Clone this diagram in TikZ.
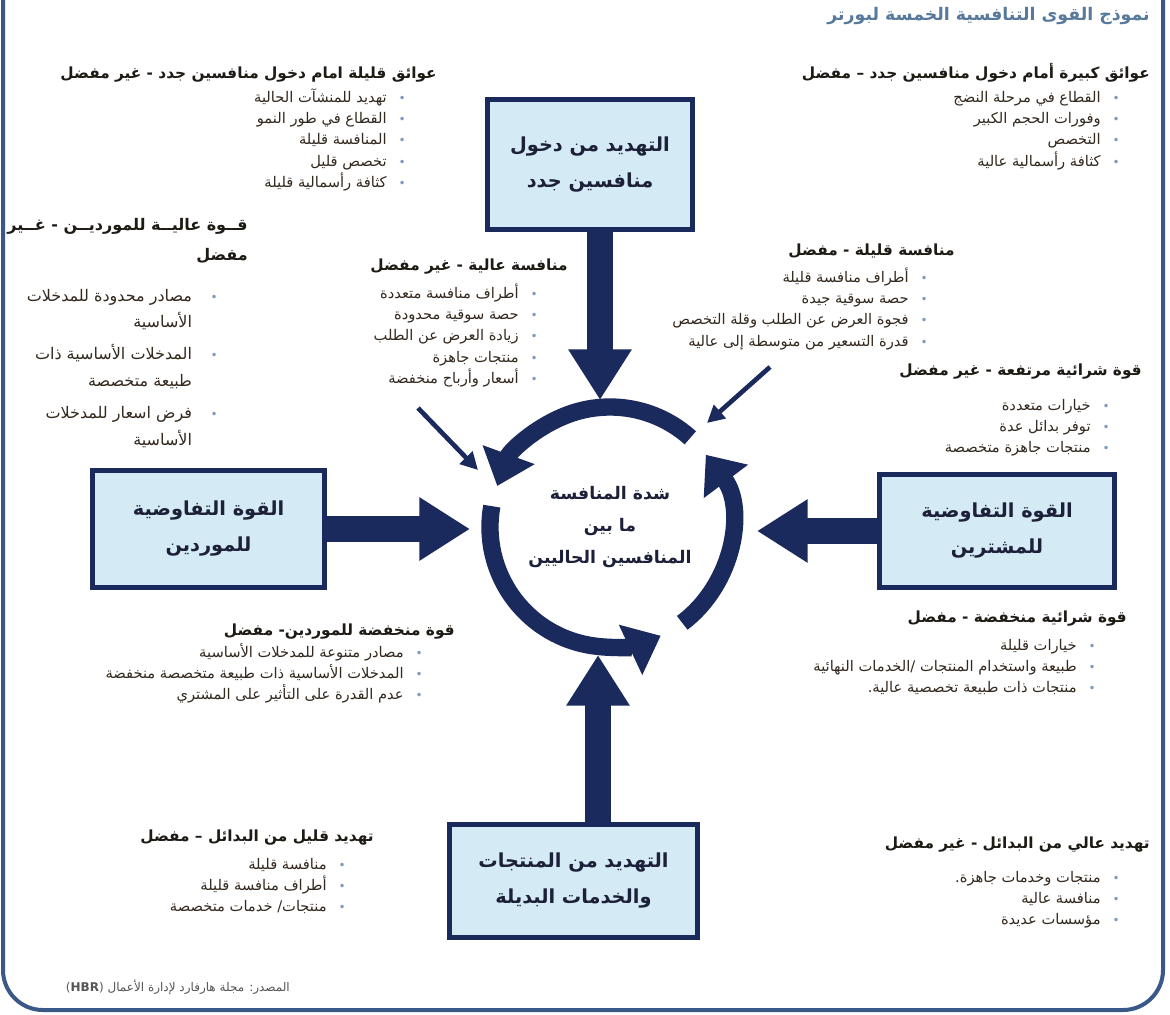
\documentclass[tikz,border=0pt]{standalone}
\usepackage{fontspec}
\setmainfont{DejaVu Sans}
\newfontfamily\arabicfont[Script=Arabic]{DejaVu Sans}
\TeXXeTstate=1
\usetikzlibrary{arrows.meta}
\definecolor{navy}{HTML}{1B2A5C}
\definecolor{boxfill}{HTML}{D4EAF4}
\definecolor{boxtxt}{HTML}{1C2038}
\definecolor{headtxt}{HTML}{1E1A14}
\definecolor{bodytxt}{HTML}{33291E}
\definecolor{bul}{HTML}{7E9CC0}
\definecolor{ttl}{HTML}{56799C}
\definecolor{frame}{HTML}{3A5888}
\definecolor{srctxt}{HTML}{555555}
\newcommand{\ar}[1]{{\arabicfont\beginR #1\endR}}
\newcommand{\bu}{\textcolor{bul}{\fontsize{9}{9}\selectfont\char"2022}}
\newcommand{\li}[1]{\ar{#1} & \bu}
\newenvironment{blt}{\begin{tabular}[t]{@{}r@{\hspace{9pt}}c@{}}}{\end{tabular}}
\begin{document}
\begin{tikzpicture}[x=0.75pt,y=-0.75pt,
  fbox/.style={draw=navy,line width=3.75pt,fill=boxfill,align=center,
    font=\arabicfont\bfseries\fontsize{14.5}{27}\selectfont,text=boxtxt,inner sep=0pt},
  bigarrow/.style={-{Triangle[length=38pt,width=45pt]},line width=19.5pt,draw=navy},
  thinarrow/.style={-{Triangle[length=13pt,width=13pt]},line width=3.5pt,draw=navy},
  ringarrow/.style={-{Triangle[length=25pt,width=40pt]},line width=13pt,draw=navy},
  head/.style={anchor=base east,inner sep=0pt,font=\arabicfont\bfseries\fontsize{11.5}{16}\selectfont,text=headtxt},
  blist/.style={anchor=base east,inner sep=0pt,font=\arabicfont\fontsize{11}{16}\selectfont,text=bodytxt},
]
\useasboundingbox (0,0) rectangle (1170,1014);
\fill[white] (0,0) rectangle (1170,1014);
% frame
\draw[frame,line width=3pt,rounded corners=30pt] (3,-60) rectangle (1163,1010);
% title
\node[anchor=base east,inner sep=0pt,font=\arabicfont\bfseries\fontsize{13}{15}\selectfont,text=ttl] (title) at (1150,20)
  {\ar{نموذج القوى التنافسية الخمسة لبورتر}};

% boxes
\node[fbox,minimum width=154pt,minimum height=98pt] (top) at (590,164.5)
  {\ar{التهديد من دخول}\\\ar{منافسين جدد}};
\node[fbox,minimum width=174pt,minimum height=88pt] (left) at (208.5,529)
  {\ar{القوة التفاوضية}\\\ar{للموردين}};
\node[fbox,minimum width=176pt,minimum height=85pt] (right) at (997,531)
  {\ar{القوة التفاوضية}\\\ar{للمشترين}};
\node[fbox,minimum width=186pt,minimum height=85pt] (bottom) at (573.5,881)
  {\ar{التهديد من المنتجات}\\\ar{والخدمات البديلة}};

% ring
\coordinate (C) at (610,527);
\draw[ringarrow] ([shift={(48:90pt)}]C) arc[start angle=48,end angle=160,radius=90pt];
\draw[ringarrow] ([shift={(170:90pt)}]C) arc[start angle=170,end angle=295,radius=90pt];
\draw[ringarrow] ([shift={(307:90pt)}]C) arc[start angle=307,end angle=397,radius=90pt];
\node[align=center,inner sep=0pt,font=\arabicfont\bfseries\fontsize{13}{24}\selectfont,text=boxtxt] (ctext) at (C)
  {\ar{شدة المنافسة}\\\ar{ما بين}\\\ar{المنافسين الحاليين}};

% big arrows
\coordinate (tA) at (600,400);
\coordinate (lA) at (470,529);
\coordinate (rA) at (757,531);
\coordinate (bA) at (598,655);
\draw[bigarrow] (top.south -| tA) -- (tA);
\draw[bigarrow] (left.east) -- (lA);
\draw[bigarrow] (right.west) -- (rA);
\draw[bigarrow] (bottom.north -| bA) -- (bA);
% thin arrows
\coordinate (d1s) at (418,408);
\coordinate (d1e) at (478,470);
\coordinate (d2s) at (770,367);
\coordinate (d2e) at (707,423);
\draw[thinarrow] (d1s) -- (d1e);
\draw[thinarrow] (d2s) -- (d2e);

% top-left block
\node[head] (tlH) at (437,78) {\ar{عوائق قليلة امام دخول منافسين جدد - غير مفضل}};
\node[blist] (tlL) at (406,102) {\begin{blt}
\li{تهديد للمنشآت الحالية}\\
\li{القطاع في طور النمو}\\
\li{المنافسة قليلة}\\
\li{تخصص قليل}\\
\li{كثافة رأسمالية قليلة}
\end{blt}};

% top-right block
\node[head] (trH) at (1150,78) {\ar{عوائق كبيرة أمام دخول منافسين جدد – مفضل}};
\node[blist] (trL) at (1120,102) {\begin{blt}
\li{القطاع في مرحلة النضج}\\
\li{وفورات الحجم الكبير}\\
\li{التخصص}\\
\li{كثافة رأسمالية عالية}
\end{blt}};

% left-middle block
\node[head,font=\arabicfont\bfseries\fontsize{12}{22}\selectfont] (lmH) at (248,230)
  {\ar{قــوة عاليــة للمورديــن - غــير}};
\node[head,font=\arabicfont\bfseries\fontsize{12}{22}\selectfont] (lmH2) at (248,260) {\ar{مفضل}};
\node[blist,font=\arabicfont\fontsize{12}{20}\selectfont] (lmL) at (218,301) {\begin{tabular}[t]{@{}r@{\hspace{14pt}}c@{}}
\li{مصادر محدودة للمدخلات}\\
\ar{الأساسية} & \\[4pt]
\li{المدخلات الأساسية ذات}\\
\ar{طبيعة متخصصة} & \\[4pt]
\li{فرض اسعار للمدخلات}\\
\ar{الأساسية} &
\end{tabular}};

% center-left block
\node[head] (clH) at (568,270) {\ar{منافسة عالية - غير مفضل}};
\node[blist] (clL) at (538,298) {\begin{blt}
\li{أطراف منافسة متعددة}\\
\li{حصة سوقية محدودة}\\
\li{زيادة العرض عن الطلب}\\
\li{منتجات جاهزة}\\
\li{أسعار وأرباح منخفضة}
\end{blt}};

% center-right block
\node[head] (crH) at (955,255) {\ar{منافسة قليلة - مفضل}};
\node[blist] (crL) at (928,282) {\begin{blt}
\li{أطراف منافسة قليلة}\\
\li{حصة سوقية جيدة}\\
\li{فجوة العرض عن الطلب وقلة التخصص}\\
\li{قدرة التسعير من متوسطة إلى عالية}
\end{blt}};

% right block
\node[head] (rH) at (1142,375) {\ar{قوة شرائية مرتفعة - غير مفضل}};
\node[blist] (rL) at (1110,410) {\begin{blt}
\li{خيارات متعددة}\\
\li{توفر بدائل عدة}\\
\li{منتجات جاهزة متخصصة}
\end{blt}};

% right-lower block
\node[head] (rlH) at (1127,622) {\ar{قوة شرائية منخفضة - مفضل}};
\node[blist] (rlL) at (1096,650) {\begin{blt}
\li{خيارات قليلة}\\
\li{طبيعة واستخدام المنتجات /الخدمات النهائية}\\
\li{منتجات ذات طبيعة تخصصية عالية.}
\end{blt}};

% left-lower block
\node[head] (llH) at (455,635) {\ar{قوة منخفضة للموردين- مفضل}};
\node[blist] (llL) at (423,657) {\begin{blt}
\li{مصادر متنوعة للمدخلات الأساسية}\\
\li{المدخلات الأساسية ذات طبيعة متخصصة منخفضة}\\
\li{عدم القدرة على التأثير على المشتري}
\end{blt}};

% bottom-left block
\node[head] (blH) at (374,841) {\ar{تهديد قليل من البدائل – مفضل}};
\node[blist] (blL) at (346,869) {\begin{blt}
\li{منافسة قليلة}\\
\li{أطراف منافسة قليلة}\\
\li{منتجات/ خدمات متخصصة}
\end{blt}};

% bottom-right block
\node[head] (brH) at (1150,848) {\ar{تهديد عالي من البدائل - غير مفضل}};
\node[blist] (brL) at (1120,882) {\begin{blt}
\li{منتجات وخدمات جاهزة.}\\
\li{منافسة عالية}\\
\li{مؤسسات عديدة}
\end{blt}};

% source
\node[anchor=base east,inner sep=0pt,font=\arabicfont\fontsize{9}{11}\selectfont,text=srctxt] (src) at (290,991)
  {\ar{المصدر: مجلة هارفارد لإدارة الأعمال \beginL{\rmfamily(\textbf{HBR})}\endL}};
\end{tikzpicture}
\end{document}
